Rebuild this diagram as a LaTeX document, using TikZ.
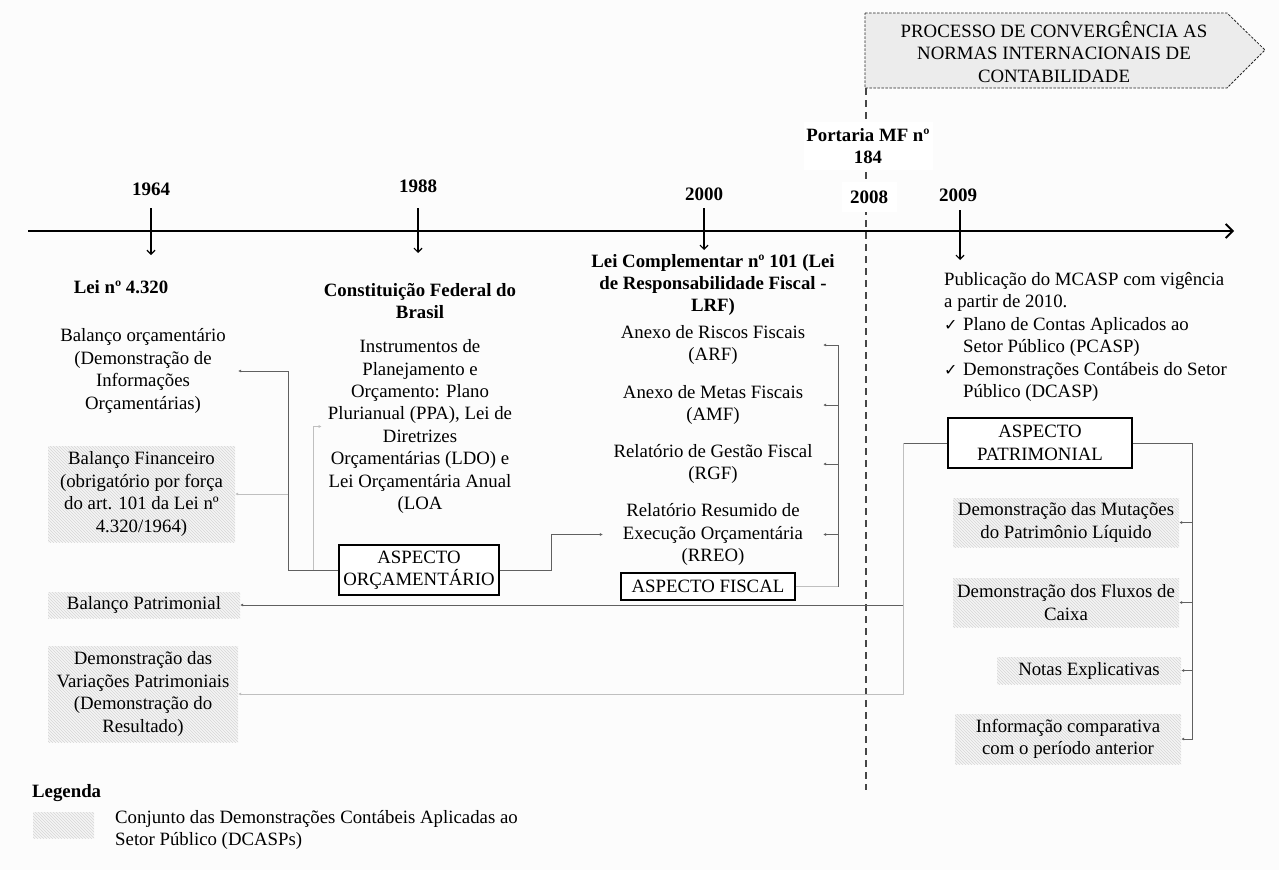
\documentclass[tikz,border=0pt]{standalone}
\usepackage{fontspec}
\setmainfont{Liberation Serif}
\newfontfamily\symfont{DejaVu Sans}
\usetikzlibrary{arrows.meta,patterns}
\newcommand\chkmark{\makebox[19pt][l]{{\symfont\fontsize{16}{16}\selectfont ✓}}}

\begin{document}
\begin{tikzpicture}[x=1pt,y=-1pt,
  every node/.style={font=\fontsize{18.8}{22.4}\selectfont, inner sep=0pt, align=center},
  yr/.style={font=\bfseries\fontsize{19}{22.4}\selectfont},
  hd/.style={font=\bfseries\fontsize{18.8}{22.4}\selectfont},
  hatchbox/.style={preaction={fill=gray!8}, pattern=north west lines, pattern color=gray!32},
  aspbox/.style={draw=black, line width=1.3pt, fill=white, inner xsep=4pt, inner ysep=2pt},
  fiscal/.style={minimum width=220},
  conn/.style={draw=gray!75!black, line width=0.8pt, -{Latex[length=3pt,width=3pt]}},
  connl/.style={draw=gray!50, line width=0.8pt, -{Latex[length=3pt,width=3pt]}},
  yarr/.style={line width=1.3pt, -{Straight Barb[length=4pt,width=8pt,line width=1.2pt]}},
  conv/.style={fill=gray!15, draw=gray!30!black, line width=0.8pt, dash pattern=on 2.5pt off 1.5pt}
]
\useasboundingbox (0,0) rectangle (1279,870);
\fill[gray!2] (0,0) rectangle (1279,870);

% convergence banner and dashed separator
\draw[conv] (865,13) -- (1227,13) -- (1265,50) -- (1227,88) -- (865,88) -- cycle;
\node (cvt) at (1054,52) {PROCESSO DE CONVERGÊNCIA AS\\NORMAS INTERNACIONAIS DE\\CONTABILIDADE};
\coordinate (cvb) at (866,88);
\coordinate (cve) at (866,790);
\draw[gray!55!black, line width=1.1pt, dash pattern=on 7pt off 5pt] (cvb) -- (cve);

% timeline
\coordinate (tl0) at (28,231);
\coordinate (tl1) at (1234,231);
\draw[line width=2.6pt, -{Straight Barb[length=7pt,width=14pt,line width=1.8pt]}] (tl0) -- (tl1);

% years
\node[yr] (y64) at (151,189) {1964};
\node[yr] (y88) at (418,186) {1988};
\node[yr] (y00) at (704,194) {2000};
\node[yr, fill=white, minimum width=55, minimum height=30] (y08) at (869,197) {2008};
\node[yr] (y09) at (958,195) {2009};
\node[hd, fill=white, minimum width=129, minimum height=48] (port) at (868,146) {Portaria MF nº\\184};

\coordinate (t64) at (151,208); \coordinate (b64) at (151,255);
\coordinate (t88) at (418,208); \coordinate (b88) at (418,253);
\coordinate (t00) at (704,208); \coordinate (b00) at (704,250);
\coordinate (t09) at (960,210); \coordinate (b09) at (960,260);
\draw[yarr] (t64) -- (b64);
\draw[yarr] (t88) -- (b88);
\draw[yarr] (t00) -- (b00);
\draw[yarr] (t09) -- (b09);

% 1964
\node[hd] (lei) at (121,287) {Lei nº 4.320};
\node[minimum width=190] (bo) at (143,371) {Balanço orçamentário\\(Demonstração de\\Informações\\Orçamentárias)};
\node[hatchbox, minimum width=187, minimum height=96] (bf) at (141.5,494) {Balanço Financeiro\\(obrigatório por força\\do art. 101 da Lei nº\\4.320/1964)};
\node[hatchbox, minimum width=192, minimum height=26] (bp) at (144,605) {Balanço Patrimonial};
\node[hatchbox, minimum width=190, minimum height=96] (dvp) at (143,694) {Demonstração das\\Variações Patrimoniais\\(Demonstração do\\Resultado)};

% 1988
\node[hd] (cf) at (420,301) {Constituição Federal do\\Brasil};
\node (ins) at (420,426.5) {Instrumentos de\\Planejamento e\\Orçamento: Plano\\Plurianual (PPA), Lei de\\Diretrizes\\Orçamentárias (LDO) e\\Lei Orçamentária Anual\\(LOA};
\node[aspbox, minimum width=160, minimum height=50] (ao) at (419,570) {ASPECTO\\ORÇAMENTÁRIO};

% 2000
\node[hd] (lc) at (713,285) {Lei Complementar nº 101 (Lei\\de Responsabilidade Fiscal -\\LRF)};
\node[fiscal] (arf) at (713,345) {Anexo de Riscos Fiscais\\(ARF)};
\node[fiscal] (amf) at (713,405) {Anexo de Metas Fiscais\\(AMF)};
\node[fiscal] (rgf) at (713,464) {Relatório de Gestão Fiscal\\(RGF)};
\node[fiscal] (rreo) at (713,534.5) {Relatório Resumido de\\Execução Orçamentária\\(RREO)};
\node[aspbox, minimum width=174, minimum height=27] (af) at (708,586.5) {ASPECTO FISCAL};

% 2009
\node[anchor=west, align=left] (mcasp) at (944,337) {Publicação do MCASP com vigência\\a partir de 2010.\\\chkmark Plano de Contas Aplicados ao\\\hspace*{19pt}Setor Público (PCASP)\\\chkmark Demonstrações Contábeis do Setor\\\hspace*{19pt}Público (DCASP)};
\node[aspbox, minimum width=184, minimum height=50] (ap) at (1040,443) {ASPECTO\\PATRIMONIAL};
\node[hatchbox, minimum width=226, minimum height=49] (dmpl) at (1066,522.5) {Demonstração das Mutações\\do Patrimônio Líquido};
\node[hatchbox, minimum width=226, minimum height=49] (dfc) at (1066,602.5) {Demonstração dos Fluxos de\\Caixa};
\node[hatchbox, minimum width=184, minimum height=27] (ne) at (1089,670.5) {Notas Explicativas};
\node[hatchbox, minimum width=226, minimum height=50] (icp) at (1068,739) {Informação comparativa\\com o período anterior};

% budget connectors
\coordinate (jO) at (288,570);
\coordinate (jBF) at (288,494);
\coordinate (jI) at (313,570);
\coordinate (jR) at (551,570);
\draw[conn] (ao.west) -- (jO) |- (bo.east);
\draw[connl] (jBF) -- (bf.east);
\draw[connl] (jI) |- ([xshift=-6pt]ins.west);
\draw[conn] (ao.east) -- (jR) |- (rreo.west);

% fiscal connectors
\coordinate (jF) at (838,586.5);
\draw[draw=gray!50, line width=0.8pt] (af.east) -- (jF);
\draw[conn] (jF) |- (arf.east);
\draw[conn] (jF) |- (amf.east);
\draw[conn] (jF) |- (rgf.east);
\draw[conn] (jF) |- (rreo.east);

% patrimonial connectors
\coordinate (jPL) at (903,443);
\coordinate (jPR) at (1192,443);
\draw[conn] (ap.west) -- (jPL) |- (bp.east);
\draw[connl] (jPL) |- (dvp.east);
\draw[conn] (ap.east) -- (jPR) |- (dmpl.east);
\draw[conn] (jPR) |- (dfc.east);
\draw[conn] (jPR) |- (ne.east);
\draw[conn] (jPR) |- (icp.east);

% legend
\node[hd, anchor=west] (leg) at (32,793) {Legenda};
\node[hatchbox, minimum width=61, minimum height=26] (sw) at (63.5,825) {};
\node[anchor=west, align=left] (legt) at (115,830) {Conjunto das Demonstrações Contábeis Aplicadas ao\\Setor Público (DCASPs)};
\end{tikzpicture}
\end{document}
